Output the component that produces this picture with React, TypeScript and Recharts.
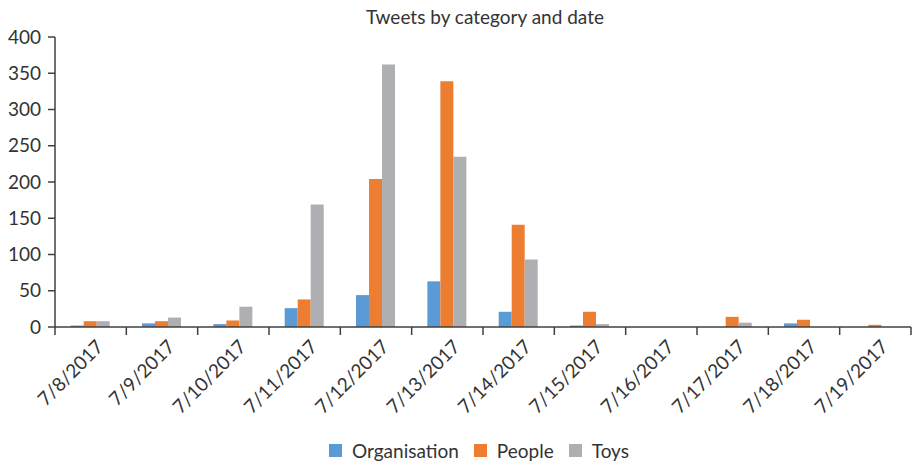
import {
  BarChart,
  Bar,
  XAxis,
  YAxis,
  Legend
} from "recharts";

const dates = [
  "7/8/2017",
  "7/9/2017",
  "7/10/2017",
  "7/11/2017",
  "7/12/2017",
  "7/13/2017",
  "7/14/2017",
  "7/15/2017",
  "7/16/2017",
  "7/17/2017",
  "7/18/2017",
  "7/19/2017"
];

const organisation = [2, 5, 4, 26, 44, 63, 21, 2, 0, 0, 5, 0];
const people = [8, 8, 9, 38, 204, 339, 141, 21, 0, 14, 10, 3];
const toys = [8, 13, 28, 169, 362, 235, 93, 4, 0, 6, 0, 0];

const yTicks = [0, 50, 100, 150, 200, 250, 300, 350, 400];

const data = dates.map((date, i) => ({
  date,
  Organisation: organisation[i],
  People: people[i],
  Toys: toys[i]
}));

const FONT = "Lato, 'Open Sans', sans-serif";
const AXIS = "#404040";
const TEXT = "#333";

function DateTick(props: any) {
  const { x, y, payload, index } = props;
  const half = payload && payload.offset ? payload.offset : 35.7;
  const last = index === dates.length - 1;
  return (
    <g>
      <line x1={x - half} y1={y - 8} x2={x - half} y2={y} stroke={AXIS} strokeWidth={1.5} />
      {last && (
        <line x1={x + half} y1={y - 8} x2={x + half} y2={y} stroke={AXIS} strokeWidth={1.5} />
      )}
      <text
        x={0}
        y={0}
        transform={`translate(${x + 14},${y + 13}) rotate(-45)`}
        textAnchor="end"
        fontSize={19}
        fill={TEXT}
        fontFamily={FONT}
      >
        {payload.value}
      </text>
    </g>
  );
}

function LegendContent(props: any) {
  const { payload } = props;
  return (
    <div
      style={{
        display: "flex",
        justifyContent: "center",
        paddingLeft: 62,
        paddingTop: 12,
        fontFamily: FONT,
        fontSize: 19,
        color: TEXT
      }}
    >
      {(payload || []).map((entry: any) => (
        <div key={entry.value} style={{ display: "flex", alignItems: "center", marginRight: 15 }}>
          <span style={{ width: 13, height: 13, background: entry.color, marginRight: 10, display: "inline-block" }} />
          <span>{entry.value}</span>
        </div>
      ))}
    </div>
  );
}

export default function App() {
  return (
    <div style={{ position: "absolute", left: 0, top: 0, width: 912, height: 464, background: "#fff" }}>
      <div
        style={{
          position: "absolute",
          top: 5,
          left: 58,
          width: 854,
          textAlign: "center",
          fontFamily: FONT,
          fontSize: 19,
          color: TEXT
        }}
      >
        Tweets by category and date
      </div>
      <BarChart
        width={912}
        height={464}
        data={data}
        margin={{ top: 37, right: 1, bottom: 0, left: 0 }}
        barCategoryGap="22%"
        barGap={0}
      >
        <XAxis
          dataKey="date"
          interval={0}
          height={100}
          tickLine={false}
          axisLine={{ stroke: AXIS, strokeWidth: 1.5 }}
          tick={<DateTick />}
        />
        <YAxis
          domain={[0, 400]}
          ticks={yTicks}
          width={55}
          tickSize={7}
          tickMargin={7}
          axisLine={{ stroke: AXIS, strokeWidth: 1.5 }}
          tickLine={{ stroke: AXIS, strokeWidth: 1.5 }}
          tick={{ fontSize: 19, fill: TEXT, fontFamily: FONT }}
        />
        <Legend verticalAlign="bottom" height={37} content={<LegendContent />} />
        <Bar dataKey="Organisation" fill="#5B9BD5" isAnimationActive={false} />
        <Bar dataKey="People" fill="#ED7D31" isAnimationActive={false} />
        <Bar dataKey="Toys" fill="#AEAFB2" isAnimationActive={false} />
      </BarChart>
    </div>
  );
}
